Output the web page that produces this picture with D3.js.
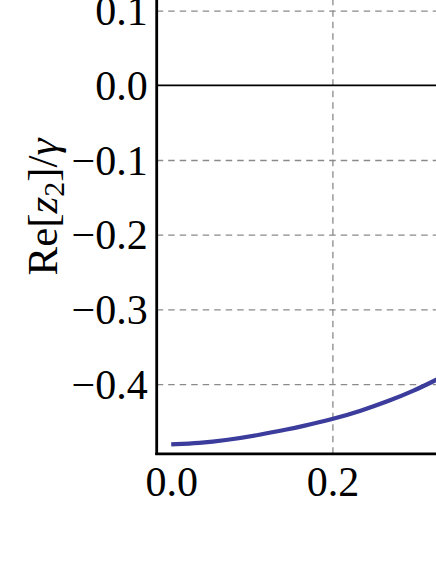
<!DOCTYPE html>
<html>
<head>
<meta charset="utf-8">
<script src="https://cdn.jsdelivr.net/npm/d3@7"></script>
<style>
  html, body { margin: 0; padding: 0; background: #fff; overflow: hidden; }
  svg { display: block; }
  text { font-family: "Liberation Serif", "DejaVu Serif", serif; fill: #000; }
</style>
</head>
<body>
<svg id="chart" width="436" height="564"></svg>
<script>
// ---- data ----
const curveX = [0.000, 0.035, 0.069, 0.110, 0.147, 0.160, 0.199, 0.235, 0.271, 0.300, 0.3285, 0.345];
const curveY = [-0.4806, -0.4792, -0.4750, -0.4680, -0.4600, -0.4570, -0.4475, -0.4360, -0.4222, -0.4095, -0.3945, -0.3855];
const xTicks = [0.0, 0.2];
const yTicks = [0.1, 0.0, -0.1, -0.2, -0.3, -0.4];
const xGrid = [0.2, 0.4];
const yGrid = [0.1, -0.1, -0.2, -0.3, -0.4];

// ---- layout ----
const svg = d3.select("#chart");
const x = d3.scaleLinear().domain([-0.018, 0.5]).range([156.7, 156.7 + 0.518 * 806]);
const y = d3.scaleLinear().domain([-0.4933, 0.2]).range([453.8, 453.8 - 0.6933 * 747]);
const pLeft = x.range()[0], pBottom = y.range()[0];
const pRight = x.range()[1], pTop = y.range()[1];
const fmt = d3.format(".1f");

// grid lines
const gx = svg.append("g").attr("transform", `translate(0,${pBottom})`)
  .call(d3.axisBottom(x).tickValues(xGrid).tickSize(-(pBottom - pTop)).tickFormat(""));
gx.select(".domain").remove();
gx.selectAll("line").attr("stroke", "#8a8a8a").attr("stroke-width", 1.3).attr("stroke-dasharray", "6.5,5");

const gy = svg.append("g").attr("transform", `translate(${pLeft},0)`)
  .call(d3.axisLeft(y).tickValues(yGrid).tickSize(-(pRight - pLeft)).tickFormat(""));
gy.select(".domain").remove();
gy.selectAll("line").attr("stroke", "#8a8a8a").attr("stroke-width", 1.3).attr("stroke-dasharray", "6.5,5");

// zero line
svg.append("line")
  .attr("x1", pLeft).attr("x2", pRight)
  .attr("y1", y(0)).attr("y2", y(0))
  .attr("stroke", "#000").attr("stroke-width", 1.8);

// curve
const line = d3.line().x(d => x(d[0])).y(d => y(d[1])).curve(d3.curveBasis);
svg.append("path")
  .datum(d3.zip(curveX, curveY))
  .attr("d", line)
  .attr("fill", "none")
  .attr("stroke", "#3c3c9c")
  .attr("stroke-width", 4.2);

// axes with tick labels
const ax = svg.append("g").attr("transform", `translate(0,${pBottom})`)
  .call(d3.axisBottom(x).tickValues(xTicks).tickSize(0).tickPadding(0).tickFormat(fmt));
ax.select(".domain").remove();
ax.selectAll("text").attr("font-family", "Liberation Serif").attr("font-size", 42)
  .attr("fill", "#000").attr("dy", null).attr("y", 42);

const ay = svg.append("g").attr("transform", `translate(${pLeft},0)`)
  .call(d3.axisLeft(y).tickValues(yTicks).tickSize(0).tickPadding(0).tickFormat(fmt));
ay.select(".domain").remove();
ay.selectAll("text").attr("font-family", "Liberation Serif").attr("font-size", 42)
  .attr("fill", "#000").attr("dy", null).attr("x", -9).attr("y", 14);

// frame
svg.append("line").attr("x1", pLeft).attr("x2", pLeft).attr("y1", pTop).attr("y2", pBottom + 1.3)
  .attr("stroke", "#000").attr("stroke-width", 2.8);
svg.append("line").attr("x1", pLeft - 1.4).attr("x2", pRight).attr("y1", pBottom).attr("y2", pBottom)
  .attr("stroke", "#000").attr("stroke-width", 2.8);

// y-axis title
const t = svg.append("text")
  .attr("transform", `translate(57,207) rotate(-90)`)
  .attr("text-anchor", "middle")
  .attr("font-size", 43);
t.append("tspan").text("Re[");
t.append("tspan").attr("font-style", "italic").text("z");
t.append("tspan").attr("font-size", 30).attr("dy", 7).text("2");
t.append("tspan").attr("dy", -7).text("]/");
t.append("tspan").attr("font-style", "italic").text("γ");
</script>
</body>
</html>
